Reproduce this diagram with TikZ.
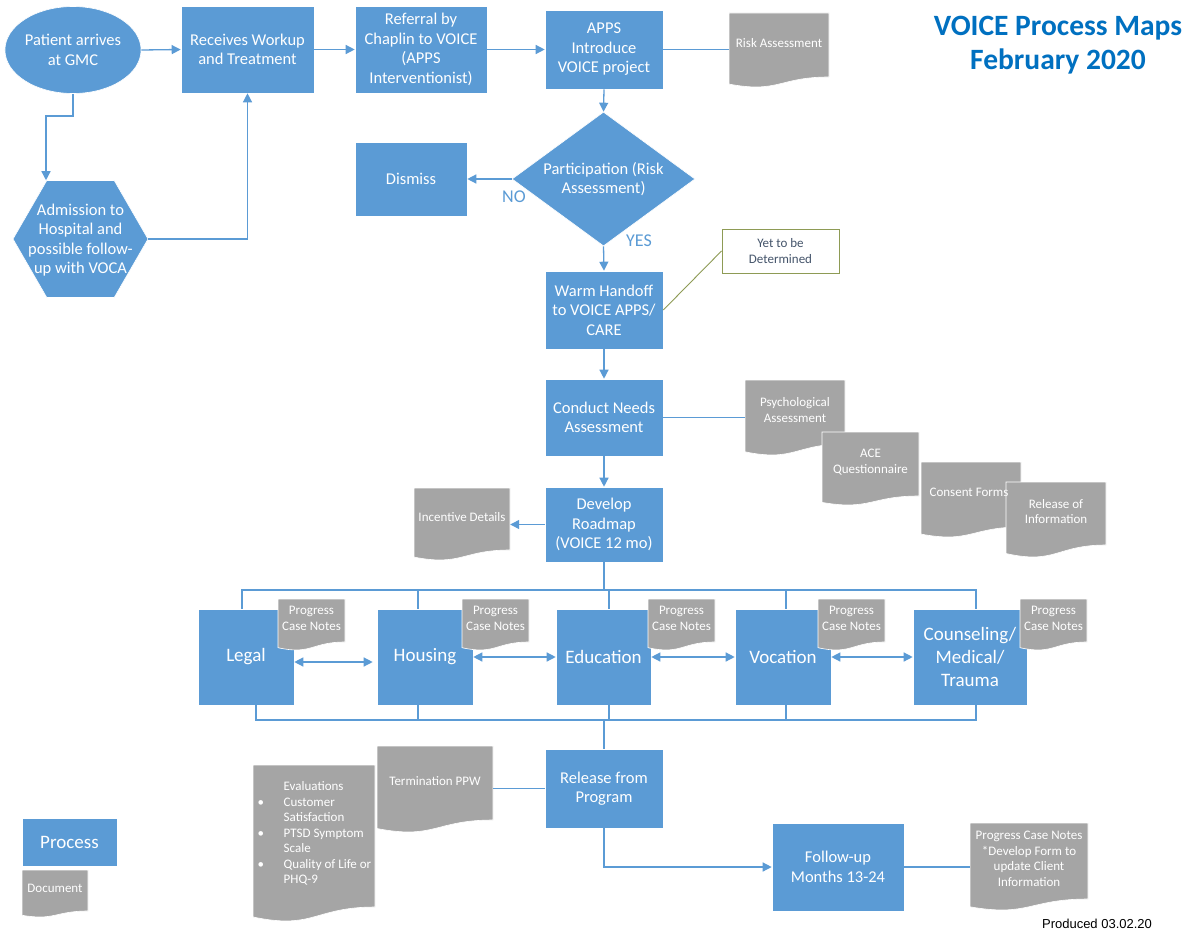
\documentclass[tikz,border=0pt]{standalone}
\usepackage{fontspec}
\setmainfont{Carlito}
\newfontfamily\arialfont{Liberation Sans}
\usetikzlibrary{shapes.geometric,arrows.meta,calc}
\definecolor{boxblue}{HTML}{5B9BD5}
\definecolor{docgray}{HTML}{A5A5A5}
\definecolor{titleblue}{HTML}{0070C0}
\definecolor{calloutolive}{HTML}{8E9B55}
\definecolor{notetext}{HTML}{44546A}
\tikzset{
  procbox/.style={rectangle, fill=boxblue, draw=white, line width=0.6pt, text=white, align=center, inner sep=2pt, font=\fontsize{16.5}{19.5}\selectfont},
  bigbox/.style={procbox, font=\fontsize{19}{23}\selectfont},
  conn/.style={draw=boxblue, line width=1.3pt},
  arr/.style={conn, -{Triangle[length=9pt,width=9pt]}},
  darr/.style={conn, {Triangle[length=9pt,width=9pt]}-{Triangle[length=9pt,width=9pt]}},
  docshape/.style={fill=docgray, draw=white, line width=0.6pt},
  doctext/.style={rectangle, inner sep=0pt, text=white, align=center, font=\fontsize{13}{15.5}\selectfont},
  lbl/.style={text=boxblue, font=\fontsize{18}{20}\selectfont},
}
% [style]{name}{x1}{y1}{x2}{y2}{text}
\newcommand{\procnode}[7][procbox]{\node[#1, minimum width={#5-#3}, minimum height={#6-#4}] (#2) at ({(#3+#5)/2},{(#4+#6)/2}) {#7};}
% {x}{y}{w}{r}{a}
\newcommand{\docoutline}[5]{%
  \path[docshape] (#1,#2) -- ({#1+#3},#2) -- ({#1+#3},{#2+#4}) .. controls +({-0.5*#3},0) and +({0.5*#3},{0.93*#5}) .. (#1,{#2+#4+0.71*#5}) -- cycle;}
% [text shift]{name}{x}{y}{w}{r}{text}
\newcommand{\doclabel}[7][-2]{%
  \node[doctext, minimum width=#5, minimum height=#6] (#2) at ({#3+0.5*#5},{#4+0.5*#6+(#1)}) {#7};}
% [text shift]{name}{x}{y}{w}{r}{a}{text}
\newcommand{\docnode}[8][-2]{%
  \docoutline{#3}{#4}{#5}{#6}{#7}
  \doclabel[#1]{#2}{#3}{#4}{#5}{#6}{#8}}
\begin{document}
\begin{tikzpicture}[x=1pt,y=-1pt]
\useasboundingbox (0,0) rectangle (1190,931);
\fill[white] (0,0) rectangle (1190,931);

% title
\node[text=titleblue, align=center, font=\bfseries\fontsize{29.5}{34}\selectfont] (title) at (1058,45) {VOICE Process Maps\\February 2020};

% start nodes
\node[ellipse, minimum width=132, minimum height=87, inner sep=0pt, fill=boxblue, draw=white, line width=0.6pt, text=white, align=center, font=\fontsize{16.5}{19.5}\selectfont] (patient) at (73,50) {Patient arrives\\at GMC};
\node[regular polygon, regular polygon sides=6, minimum size=135, inner sep=0pt, fill=boxblue, draw=white, line width=0.6pt] (adm) at (80.5,239) {};
\node[text=white, align=center, font=\fontsize{16.5}{19.5}\selectfont] (admtext) at (80.5,240) {Admission to\\Hospital and\\possible follow-\\up with VOCA};

\procnode{receives}{181}{6}{314}{93}{Receives Workup\\and Treatment}
\procnode{referral}{355}{6}{487}{93}{Referral by\\Chaplin to VOICE\\(APPS\\Interventionist)}
\procnode{apps}{545}{10}{663}{89}{APPS\\Introduce\\VOICE project}
\procnode{dismiss}{355}{142}{467}{216}{Dismiss}
\node[diamond, aspect=1.366, minimum width=183, minimum height=134, inner sep=0pt, fill=boxblue, draw=white, line width=0.6pt, text=white, align=center, font=\fontsize{16.5}{19.5}\selectfont] (part) at (603.5,179) {Participation (Risk\\Assessment)};
\procnode{warm}{545}{271}{663}{349}{Warm Handoff\\to VOICE APPS/\\CARE}
\procnode{conduct}{545}{379}{663}{456}{Conduct Needs\\Assessment}
\procnode{develop}{545}{487}{663}{562}{Develop\\Roadmap\\(VOICE 12 mo)}
\procnode[bigbox]{legal}{198}{609}{294}{705}{Legal}
\procnode[bigbox]{housing}{377}{609}{473}{705}{Housing}
\procnode[bigbox]{education}{556}{609}{651}{705}{Education}
\procnode[bigbox]{vocation}{735}{609}{831}{705}{Vocation}
\procnode[bigbox]{counseling}{913}{609}{1027}{705}{Counseling/\\Medical/\\Trauma}
\procnode{release}{545}{749}{663}{828}{Release from\\Program}
\procnode{followup}{772}{823}{904}{911}{Follow-up\\Months 13-24}
\procnode[bigbox]{legendproc}{22}{818}{117}{866}{Process}

\node[lbl] (nolbl) at (514,197) {NO};
\node[lbl] (yeslbl) at (639,241) {YES};

\node[rectangle, fill=white, draw=calloutolive, line width=1pt, minimum width=117, minimum height=44, text=notetext, align=center, font=\fontsize{13}{15.5}\selectfont] (ytbd) at (780.5,251) {Yet to be\\Determined};

% documents
\docnode{riskdoc}{729}{13}{100}{64}{10}{Risk Assessment}
\docnode{psychdoc}{745}{380}{100}{64}{11}{Psychological\\Assessment}
\docnode{acedoc}{822}{432}{97}{64}{9}{ACE\\Questionnaire}
\docoutline{921}{462}{100}{65}{10}
\docnode{reldoc}{1006}{482}{100}{63}{12}{Release of\\Information}
\doclabel{consentdoc}{919}{462}{100}{65}{Consent Forms}
\docnode{incdoc}{414}{488}{96}{62}{10}{Incentive Details}
\docnode{progL}{278}{599}{67}{43}{8}{Progress\\Case Notes}
\docnode{progH}{462}{599}{67}{43}{8}{Progress\\Case Notes}
\docnode{progE}{648}{599}{67}{43}{8}{Progress\\Case Notes}
\docnode{progV}{818}{599}{67}{43}{8}{Progress\\Case Notes}
\docnode{progC}{1020}{599}{67}{43}{8}{Progress\\Case Notes}
\docnode{termdoc}{377}{746}{116}{74}{12}{Termination PPW}
\docnode{evaldoc}{253}{765}{122}{142}{14}{\begin{tabular}{@{}l@{}}
\makebox[27pt][l]{}Evaluations\\
\makebox[27pt][l]{\hspace{1pt}\textbullet}Customer\\
\makebox[27pt][l]{}Satisfaction\\
\makebox[27pt][l]{\hspace{1pt}\textbullet}PTSD Symptom\\
\makebox[27pt][l]{}Scale\\
\makebox[27pt][l]{\hspace{1pt}\textbullet}Quality of Life or\\
\makebox[27pt][l]{}PHQ-9
\end{tabular}}
\docnode{progF}{970}{823}{118}{76}{11}{Progress Case Notes\\*Develop Form to\\update Client\\Information}
\docnode{legenddoc}{22}{870}{66}{41}{6}{Document}

\node[font=\arialfont\fontsize{13}{15}\selectfont, text=black] (produced) at (1097,924) {Produced 03.02.20};

% connectors: top section
\draw[arr] (patient.east) -- (receives.west);
\draw[arr] (receives.east) -- (referral.west);
\draw[arr] (referral.east) -- (apps.west);
\draw[conn] (apps.east) -- (apps.east -| riskdoc.west);
\coordinate (pbend) at (46,116);
\draw[arr] (patient.south) |- (pbend) -- (pbend |- adm.north);
\draw[arr] (adm.east) -| (receives.south);
\draw[arr] (apps.south) -- (part.north);
\draw[arr] (part.west) -- (dismiss.east);
\draw[arr] (part.south) -- (warm.north);
\draw[calloutolive, line width=0.9pt] (ytbd.west) -- (warm.east);
\draw[arr] (warm.south) -- (conduct.north);
\draw[conn] (conduct.east) -- (conduct.east -| psychdoc.west);
\draw[arr] (conduct.south) -- (develop.north);
\draw[arr] (develop.west) -- (develop.west -| incdoc.east);

% top bus
\coordinate (tL) at (242,590);
\coordinate (tH) at (418,590);
\coordinate (tE) at (609,590);
\coordinate (tV) at (786,590);
\coordinate (tR) at (976,590);
\draw[conn] (develop.south) -- (develop.south |- tL);
\draw[conn] (legal.north -| tL) -- (tL) -- (tR) -- (counseling.north -| tR);
\draw[conn] (tH) -- (housing.north -| tH);
\draw[conn] (tE) -- (education.north -| tE);
\draw[conn] (tV) -- (vocation.north -| tV);

% bottom bus
\coordinate (bL) at (256,720);
\coordinate (bH) at (418,720);
\coordinate (bE) at (609,720);
\coordinate (bV) at (786,720);
\coordinate (bR) at (976,720);
\draw[conn] (legal.south -| bL) -- (bL) -- (bR) -- (counseling.south -| bR);
\draw[conn] (bH) -- (housing.south -| bH);
\draw[conn] (bE) -- (education.south -| bE);
\draw[conn] (bV) -- (vocation.south -| bV);
\draw[conn] (release.north |- bL) -- (release.north);

% row double arrows
\draw[darr] ([yshift=-5pt]legal.east) -- ([yshift=-5pt,xshift=-4pt]housing.west);
\draw[darr] (housing.east) -- (education.west);
\draw[darr] (education.east) -- (vocation.west);
\draw[darr] (vocation.east) -- (counseling.west);

% bottom section
\draw[conn] (release.west) -- (release.west -| termdoc.east);
\draw[arr] (release.south) |- (followup.west);
\draw[conn] (followup.east) -- (followup.east -| progF.west);
\end{tikzpicture}
\end{document}
